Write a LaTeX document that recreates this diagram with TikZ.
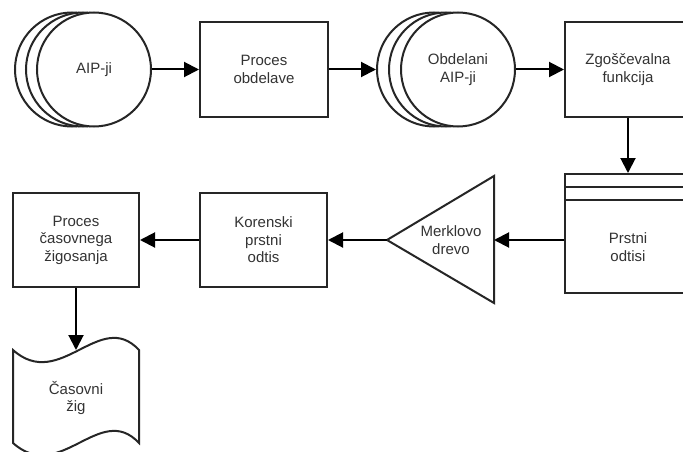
\documentclass[tikz,border=0pt]{standalone}
\usepackage{fontspec}
\setmainfont{Liberation Sans}
\usetikzlibrary{arrows.meta}
\begin{document}
\begin{tikzpicture}[x=1pt,y=-1pt,
  every node/.style={font=\fontsize{15}{17.5}\selectfont, text=black!80, align=center},
  shapeline/.style={draw=black!85, line width=2pt, fill=white},
  box/.style={shapeline, rectangle, inner sep=0pt},
  circ/.style={shapeline, circle, minimum size=114pt, inner sep=0pt},
  flow/.style={draw=black, line width=2pt, -{Triangle[length=15pt,width=15pt]}}
]
\useasboundingbox (0,0) rectangle (683,452);
\clip (0,0) rectangle (683,452);

% AIP-ji stack
\node[circ] (aip3) at (72,69.5) {};
\node[circ] (aip2) at (83,69.5) {};
\node[circ] (aip) at (94,69.5) {AIP-ji};

% Proces obdelave
\node[box, minimum width=128pt, minimum height=95pt] (proc) at (264,69.5) {Proces\\obdelave};

% Obdelani AIP-ji stack
\node[circ] (obd3) at (434,69.5) {};
\node[circ] (obd2) at (446,69.5) {};
\node[circ] (obd) at (458,69.5) {Obdelani\\AIP-ji};

% Zgoscevalna funkcija
\node[box, minimum width=126pt, minimum height=95pt] (zgo) at (628,69.5) {Zgoščevalna\\funkcija};

% Prstni odtisi
\node[box, minimum width=126pt, minimum height=119pt] (prst) at (628,233.5) {};
\draw[line width=2pt, draw=black!85] (565,187) -- (691,187);
\draw[line width=2pt, draw=black!85] (565,200) -- (691,200);
\node (prsttext) at (628,247) {Prstni\\odtisi};

% Merklovo drevo
\draw[shapeline] (494,176) -- (494,303) -- (387,240) -- cycle;
\coordinate (mtip) at (387,240);
\coordinate (mright) at (494,240);
\node (merk) at (451,240) {Merklovo\\drevo};

% Korenski prstni odtis
\node[box, minimum width=127pt, minimum height=94pt] (kor) at (263.5,240) {Korenski\\prstni\\odtis};

% Proces casovnega zigosanja
\node[box, minimum width=126pt, minimum height=94pt] (pcz) at (76,240) {Proces\\časovnega\\žigosanja};

% Casovni zig (document)
\draw[shapeline] (13,350) .. controls (60,392) and (100,308) .. (139,350)
  -- (139,443) .. controls (100,401) and (60,485) .. (13,443) -- cycle;
\coordinate (doctop) at (76,350);
\node (doc) at (76,398) {Časovni\\žig};

% connectors
\draw[flow] (aip.east) -- (proc.west);
\draw[flow] (proc.east) -- (obd3.west);
\draw[flow] (obd.east) -- (zgo.west);
\draw[flow] (zgo.south) -- (prst.north);
\draw[flow] (prst.west |- mright) -- (mright);
\draw[flow] (mtip) -- (kor.east);
\draw[flow] (kor.west) -- (pcz.east);
\draw[flow] (pcz.south) -- (doctop);
\end{tikzpicture}
\end{document}
